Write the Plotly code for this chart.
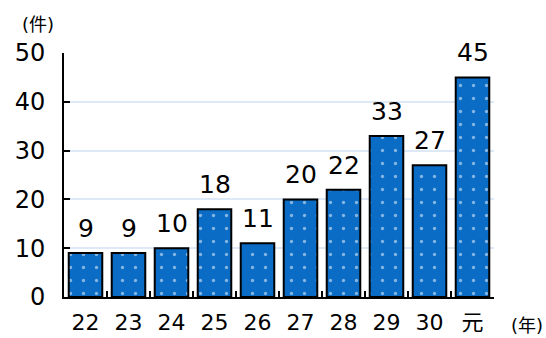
import plotly.graph_objects as go

categories = ["22", "23", "24", "25", "26", "27", "28", "29", "30", "元"]
values = [9, 9, 10, 18, 11, 20, 22, 33, 27, 45]
y_ticks = [0, 10, 20, 30, 40, 50]

FONT = "DejaVu Sans, Noto Sans CJK JP, sans-serif"
BLUE = "#0a6cc4"

fig = go.Figure()
fig.add_trace(go.Bar(
    x=categories, y=values,
    marker=dict(
        color=BLUE,
        line=dict(color="black", width=2),
        pattern=dict(shape=".", fgcolor="white", bgcolor=BLUE, size=13, solidity=0.05),
    ),
    width=0.78,
    hoverinfo="skip",
))

for i, v in enumerate(values):
    fig.add_annotation(x=i, y=v, text=str(v), showarrow=False, yanchor="bottom",
                       yshift=8, font=dict(size=25, color="black", family=FONT))

fig.add_annotation(xref="paper", yref="paper", x=-0.06, y=1.115, text="(件)",
                   xanchor="center", yanchor="middle",
                   showarrow=False, font=dict(size=18, color="black", family=FONT))
fig.add_annotation(xref="paper", yref="paper", x=1.077, y=-0.115, text="(年)",
                   xanchor="center", yanchor="middle",
                   showarrow=False, font=dict(size=18, color="black", family=FONT))

fig.update_layout(
    width=546, height=338,
    margin=dict(l=64, r=52, t=53, b=41),
    paper_bgcolor="white", plot_bgcolor="white",
    showlegend=False,
    font=dict(family=FONT, color="black"),
)
fig.update_yaxes(
    range=[0, 50], tickvals=y_ticks, showline=True, linecolor="black", linewidth=2,
    ticks="inside", ticklen=6, tickcolor="black", tickwidth=2,
    showgrid=True, gridcolor="#dde9f6", gridwidth=1.5, zeroline=False,
    tickfont=dict(size=24), ticklabelstandoff=12, automargin=False,
)
fig.update_xaxes(
    type="category", tickangle=0, range=[-0.5, len(categories) - 0.5],
    showline=True, linecolor="black", linewidth=2,
    ticks="inside", ticklen=6, tickcolor="black", tickwidth=2, tickson="boundaries",
    tickfont=dict(size=22), ticklabelstandoff=5, automargin=False,
)

fig.write_html("out.html")
